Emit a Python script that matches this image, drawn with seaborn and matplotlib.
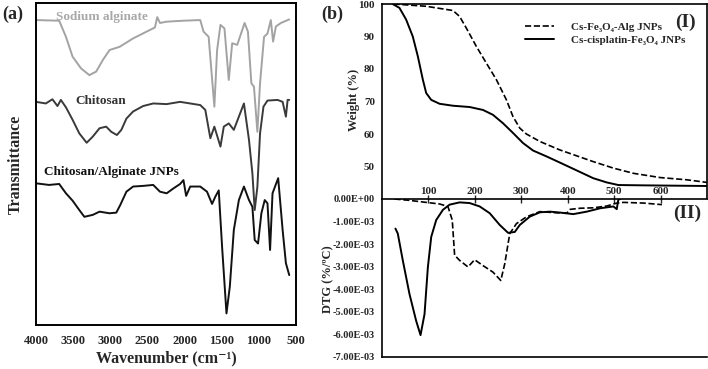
import numpy as np
import pandas as pd
import matplotlib
matplotlib.use("Agg")
import matplotlib.pyplot as plt
import seaborn as sns

# ---------------- FTIR (panel a) ----------------
alg_wn = [4000, 3688, 3597, 3507, 3394, 3281, 3190, 3100, 3010, 2942, 2874, 2693, 2512, 2399,
          2368, 2331, 2241, 2015, 1789, 1744, 1676, 1599, 1562, 1517, 1463, 1405, 1359, 1291,
          1192, 1147, 1101, 1066, 1020, 984, 930, 884, 839, 808, 771, 703, 591]
alg_t = [94.7, 94.5, 89.5, 83.3, 79.7, 77.6, 78.7, 82.3, 85.4, 85.9, 86.4, 89.0, 91.1, 92.4,
         95.6, 93.8, 94.2, 94.5, 94.7, 91.1, 89.5, 67.8, 85.4, 93.2, 92.1, 76.1, 87.5, 87.0,
         93.8, 91.1, 75.1, 74.0, 60.0, 75.1, 89.5, 90.5, 94.7, 88.0, 92.7, 93.8, 94.9]

chi_wn = [4000, 3868, 3779, 3711, 3665, 3597, 3507, 3417, 3318, 3236, 3145, 3055, 2987, 2911,
          2851, 2783, 2693, 2558, 2422, 2241, 2060, 1789, 1721, 1653, 1599, 1517, 1472, 1405,
          1337, 1269, 1201, 1133, 1087, 1056, 1020, 984, 938, 884, 748, 680, 636, 613, 591]
chi_t = [69.3, 68.8, 70.1, 68.0, 69.9, 67.6, 63.7, 59.5, 56.6, 58.5, 61.1, 61.6, 60.0, 59.0,
         60.6, 64.1, 66.3, 68.0, 68.8, 68.6, 69.3, 68.3, 66.8, 58.0, 61.6, 55.4, 61.6, 62.6,
         60.6, 64.7, 68.8, 57.5, 47.1, 35.7, 42.9, 59.5, 67.8, 69.7, 69.9, 69.3, 64.7, 69.9, 69.9]

jnp_wn = [4000, 3824, 3688, 3597, 3507, 3417, 3349, 3236, 3145, 3010, 2919, 2865, 2783, 2693,
          2558, 2422, 2331, 2241, 2151, 2060, 2015, 1979, 1924, 1789, 1698, 1630, 1585, 1540,
          1495, 1436, 1391, 1337, 1269, 1201, 1133, 1087, 1056, 1011, 966, 921, 884, 849, 816,
          740, 680, 636, 591]
jnp_t = [44.0, 43.5, 43.8, 40.9, 38.6, 35.7, 33.6, 34.2, 35.2, 34.7, 34.9, 37.3, 41.4, 43.0,
         43.2, 43.5, 41.4, 40.9, 42.4, 43.8, 45.0, 40.1, 43.0, 43.0, 41.4, 37.6, 39.9, 41.8,
         24.3, 3.6, 11.9, 29.5, 38.8, 43.0, 38.8, 36.7, 26.4, 25.3, 34.7, 38.8, 37.8, 23.3, 40.9,
         45.6, 29.5, 19.2, 15.5]

wn_ticks = [4000, 3500, 3000, 2500, 2000, 1500, 1000, 500]

# ---------------- TGA / DTG (panel b) ----------------
tga_cis_temp = [23, 37.6, 52, 66.3, 77.2, 88, 95.2, 106, 124, 152.7, 188.8, 217.5, 239, 260.7,
                282.3, 303.9, 325.5, 354.4, 383.2, 419.2, 455, 484, 509, 563, 700]
tga_cis_w = [100, 98.8, 95.2, 90.0, 83.9, 76.7, 72.6, 70.5, 69.3, 68.7, 68.3, 67.4, 65.9, 63.3,
             60.3, 57.2, 54.9, 53.1, 51.2, 48.8, 46.4, 45.1, 44.3, 44.2, 44.0]

tga_alg_temp = [24.7, 95, 152.7, 167, 181.6, 203, 224.8, 246.4, 268, 282, 296.8, 311, 340, 383,
                419, 455, 498.4, 541.6, 599, 657, 700]
tga_alg_w = [100, 99.3, 98.0, 96.2, 92.6, 87.0, 81.8, 76.7, 70.5, 65.4, 61.8, 60.0, 57.7, 55.1,
             53.3, 51.5, 49.5, 47.9, 46.6, 45.9, 45.1]

dtg_cis_temp = [28.9, 34, 44.8, 59.2, 73.6, 83, 91.6, 98.8, 106, 116.8, 131.2, 145.6, 167.2,
                188.8, 210.4, 232, 253.6, 271.6, 286, 296.8, 318.4, 340, 361.6, 383, 412, 441,
                470, 498.4, 505.6, 509, 513]
dtg_cis = [-1.31, -1.53, -2.72, -4.21, -5.40, -6.03, -5.10, -3.02, -1.68, -0.93, -0.48, -0.25,
           -0.15, -0.18, -0.33, -0.63, -1.15, -1.50, -1.46, -1.15, -0.78, -0.59, -0.56, -0.60,
           -0.67, -0.56, -0.41, -0.33, -0.45, -0.03, 0.0]

dtg_alg_temp = [26.8, 59, 95, 124, 142, 151.3, 156.4, 167.2, 185.2, 199.5, 217.5, 239, 255.8,
                264.4, 275.2, 289.6, 311.2, 340, 376, 397.8, 405, 426.6, 455.4, 484.2, 505.8,
                520.2, 563.4, 603]
dtg_alg = [0.0, -0.06, -0.15, -0.22, -0.33, -0.93, -2.49, -2.72, -3.01, -2.69, -2.95, -3.24,
           -3.61, -2.87, -1.53, -1.09, -0.79, -0.56, -0.61, -0.63, -0.46, -0.41, -0.39, -0.31,
           -0.18, -0.15, -0.18, -0.25]

temp_ticks = [100, 200, 300, 400, 500, 600]
weight_ticks = [50, 60, 70, 80, 90, 100]
dtg_ticks = [0, -1, -2, -3, -4, -5, -6, -7]

sns.set_style("white")
plt.rcParams['font.family'] = ['Liberation Serif', 'DejaVu Serif']
plt.rcParams['font.weight'] = 'bold'
plt.rcParams['axes.labelweight'] = 'bold'

W, H = 708, 369
fig = plt.figure(figsize=(W / 100, H / 100), dpi=100)


def box(l, t, r, b):
    return [l / W, (H - b) / H, (r - l) / W, (b - t) / H]


# ---------------- (a) FTIR ----------------
ax_a = fig.add_axes(box(36, 3, 296, 325))
for wn, tr, col in [(alg_wn, alg_t, '#a3a3a3'), (chi_wn, chi_t, '#3a3a3a'), (jnp_wn, jnp_t, '#111111')]:
    sns.lineplot(x=wn, y=tr, ax=ax_a, color=col, linewidth=1.4, sort=True, estimator=None)
ax_a.set_xlim(4000, 500)
ax_a.set_ylim(0, 100)
ax_a.set_xticks(wn_ticks)
ax_a.set_yticks([])
ax_a.tick_params(axis='x', direction='out', length=4, width=1.3, labelsize=9, pad=3)
for s in ax_a.spines.values():
    s.set_color('black')
    s.set_linewidth(1.4)
ax_a.set_xlabel('Wavenumber (cm⁻¹)', fontsize=11.5, labelpad=3)
ax_a.set_ylabel('Transmittance', fontsize=11.5)
ax_a.yaxis.set_label_coords(-0.045, 0.5)
ax_a.text(0.255, 0.955, 'Sodium alginate', transform=ax_a.transAxes, ha='center', va='center',
          color='#a8a8a8', fontsize=9.5, fontweight='bold')
ax_a.text(0.25, 0.695, 'Chitosan', transform=ax_a.transAxes, ha='center', va='center',
          color='#333333', fontsize=9.5, fontweight='bold')
ax_a.text(0.29, 0.475, 'Chitosan/Alginate JNPs', transform=ax_a.transAxes, ha='center', va='center',
          color='#111111', fontsize=9.5, fontweight='bold')

# ---------------- (b) TGA ----------------
ax_t = fig.add_axes(box(382, 4, 707, 199))
sns.lineplot(x=tga_alg_temp, y=tga_alg_w, ax=ax_t, color='black', linewidth=1.2,
             linestyle='--', label='Cs-Fe₃O₄-Alg JNPs')
sns.lineplot(x=tga_cis_temp, y=tga_cis_w, ax=ax_t, color='black', linewidth=1.4,
             label='Cs-cisplatin-Fe₃O₄ JNPs')
ax_t.set_xlim(0, 700)
ax_t.set_ylim(40, 100)
ax_t.set_xticks([])
ax_t.set_yticks(weight_ticks)
ax_t.tick_params(axis='y', direction='out', length=3, width=1, labelsize=8, pad=2)
ax_t.spines['bottom'].set_visible(False)
for k in ['top', 'left', 'right']:
    ax_t.spines[k].set_color('black')
    ax_t.spines[k].set_linewidth(1.2)
ax_t.set_ylabel('Weight (%)', fontsize=9)
ax_t.yaxis.set_label_coords(-0.068, 0.51)
leg = ax_t.legend(loc='upper left', bbox_to_anchor=(0.41, 0.96), frameon=False, fontsize=8,
                  handlelength=2.6, handletextpad=1.5, labelspacing=0.3)
ax_t.text(0.935, 0.905, '(I)', transform=ax_t.transAxes, ha='center', va='center', fontsize=14,
          fontweight='bold')

# ---------------- (b) DTG ----------------
ax_d = fig.add_axes(box(382, 199, 707, 357))
sns.lineplot(x=dtg_alg_temp, y=np.array(dtg_alg) * 1e-3, ax=ax_d, color='black', linewidth=1.2,
             linestyle='--')
sns.lineplot(x=dtg_cis_temp, y=np.array(dtg_cis) * 1e-3, ax=ax_d, color='black', linewidth=1.4)
ax_d.set_xlim(0, 700)
ax_d.set_ylim(-7e-3, 0)
ax_d.xaxis.tick_top()
ax_d.set_xticks(temp_ticks)
ax_d.tick_params(axis='x', direction='inout', length=6, width=1, labelsize=8, pad=-1)
ax_d.set_yticks(np.array(dtg_ticks) * 1e-3)
ax_d.set_yticklabels(['0.00E+00'] + [f'-{abs(v)}.00E-03' for v in dtg_ticks[1:]])
ax_d.tick_params(axis='y', direction='out', length=3, width=1, labelsize=7.5, pad=2)
ax_d.spines['right'].set_visible(False)
for k in ['top', 'left', 'bottom']:
    ax_d.spines[k].set_color('black')
    ax_d.spines[k].set_linewidth(1.2)
ax_d.set_ylabel('DTG (%/ºC)', fontsize=9)
ax_d.yaxis.set_label_coords(-0.148, 0.49)
ax_d.text(0.94, 0.91, '(II)', transform=ax_d.transAxes, ha='center', va='center', fontsize=14,
          fontweight='bold')

fig.text(13 / W, 1 - 14 / H, '(a)', ha='center', va='center', fontsize=13, fontweight='bold')
fig.text(332 / W, 1 - 14 / H, '(b)', ha='center', va='center', fontsize=13, fontweight='bold')

fig.savefig('out.png', dpi=100)
